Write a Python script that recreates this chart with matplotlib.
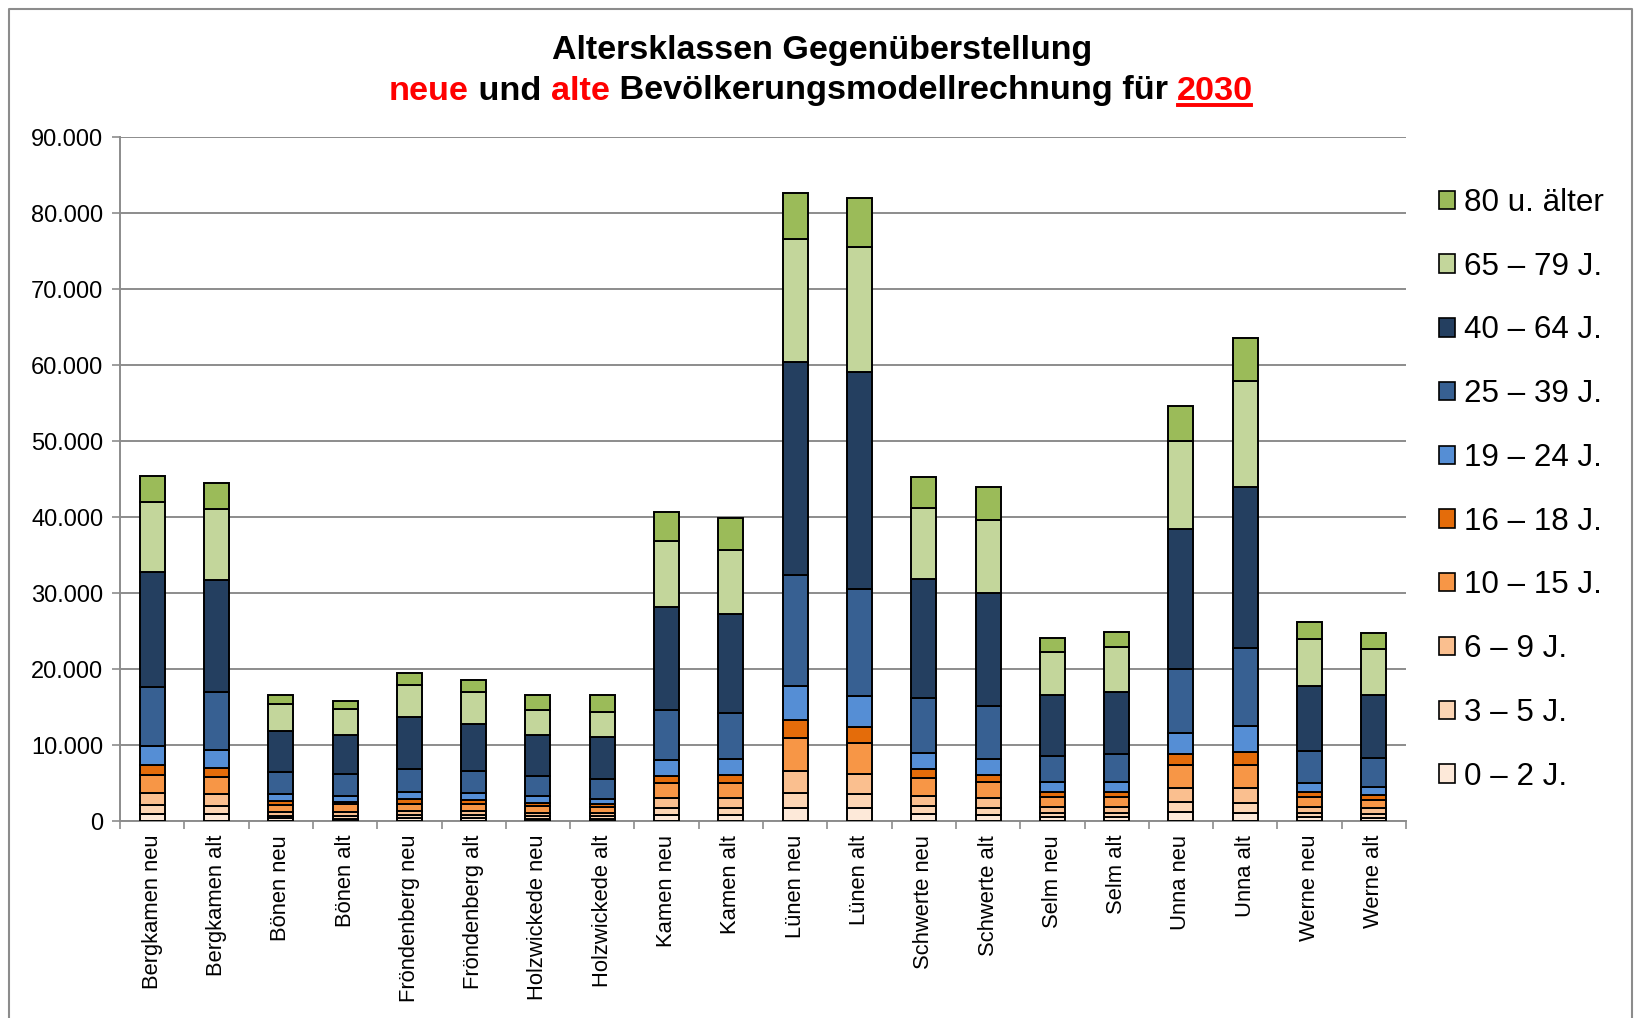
import matplotlib.pyplot as plt
import numpy as np
from matplotlib.lines import Line2D
from matplotlib.patches import Patch

plt.rcParams['font.family'] = ['Liberation Sans', 'DejaVu Sans']

# Kategorien (Gemeinde, neue / alte Rechnung)
labels = ['Bergkamen neu', 'Bergkamen alt', 'Bönen neu', 'Bönen alt',
          'Fröndenberg neu', 'Fröndenberg alt', 'Holzwickede neu', 'Holzwickede alt',
          'Kamen neu', 'Kamen alt', 'Lünen neu', 'Lünen alt',
          'Schwerte neu', 'Schwerte alt', 'Selm neu', 'Selm alt',
          'Unna neu', 'Unna alt', 'Werne neu', 'Werne alt']

# Altersklassen, von unten nach oben gestapelt
a_0_2 = [970, 880, 350, 310, 400, 400, 260, 260, 790, 790,
         1760, 1670, 880, 830, 480, 480, 1190, 1100, 530, 400]
a_3_5 = [1090, 1100, 350, 390, 390, 390, 350, 350, 970, 970,
         1970, 1930, 1050, 930, 570, 570, 1310, 1270, 520, 520]
a_6_9 = [1580, 1530, 450, 440, 570, 570, 440, 440, 1270, 1270,
         2860, 2550, 1360, 1270, 840, 790, 1850, 1930, 840, 790]
a_10_15 = [2460, 2290, 1000, 1060, 920, 880, 880, 790, 2020, 2020,
           4390, 4120, 2370, 2110, 1310, 1320, 2980, 3030, 1230, 1100]
a_16_18 = [1230, 1180, 530, 300, 570, 530, 480, 360, 920, 1050,
           2280, 2070, 1140, 920, 660, 660, 1540, 1760, 660, 610]
a_19_24 = [2500, 2330, 920, 840, 970, 920, 840, 700, 2110, 2070,
           4520, 4120, 2160, 2110, 1230, 1270, 2760, 3380, 1270, 1060]
a_25_39 = [7770, 7640, 2850, 2810, 3030, 2900, 2630, 2680, 6490, 6100,
           14550, 14110, 7240, 6930, 3510, 3690, 8360, 10300, 4210, 3860]
a_40_64 = [15130, 14770, 5450, 5220, 6810, 6230, 5490, 5480, 13630, 12970,
           28070, 28560, 15610, 14860, 7950, 8170, 18450, 21240, 8520, 8300]
a_65_79 = [9270, 9310, 3470, 3420, 4300, 4170, 3290, 3300, 8690, 8390,
           16160, 16420, 9310, 9660, 5720, 5900, 11510, 13880, 6210, 6040]
a_80 = [3380, 3470, 1270, 1010, 1530, 1620, 1980, 2280, 3740, 4260,
        6020, 6420, 4130, 4310, 1760, 2060, 4650, 5620, 2160, 2060]

series = [a_0_2, a_3_5, a_6_9, a_10_15, a_16_18, a_19_24, a_25_39, a_40_64, a_65_79, a_80]
names = ['0 – 2 J.', '3 – 5 J.', '6 – 9 J.', '10 – 15 J.', '16 – 18 J.',
         '19 – 24 J.', '25 – 39 J.', '40 – 64 J.', '65 – 79 J.', '80 u. älter']
colors = ['#FDE9D9', '#FCD5B4', '#FABF8F', '#F79646', '#E46C0A',
          '#558ED5', '#376092', '#243F60', '#C3D69B', '#9BBB59']

W, H = 1634, 1018
fig = plt.figure(figsize=(W / 100, H / 100), dpi=100)
ax = fig.add_axes([120 / W, 1 - 821 / H, (1406 - 120) / W, (821 - 137) / H])

x = np.arange(len(labels))
bottom = np.zeros(len(labels))
for vals, name, col in zip(series, names, colors):
    ax.bar(x, vals, 0.39, bottom=bottom, color=col, edgecolor='black',
           linewidth=1.4, label=name, zorder=3)
    bottom += np.array(vals)

ax.set_xlim(-0.5, len(labels) - 0.5)
ax.set_ylim(0, 90000)
yt = np.arange(0, 90001, 10000)
ax.set_yticks(yt)
ax.set_yticklabels([f'{v:,.0f}'.replace(',', '.') for v in yt], fontsize=17)
ax.yaxis.grid(True, color='#8c8c8c', linewidth=1.4, zorder=0)
ax.set_axisbelow(True)

ax.set_xticks(x)
ax.set_xticklabels(labels, rotation=90, fontsize=15.8, va='top', ha='center')
ax.tick_params(axis='x', length=0, pad=10)
ax.set_xticks(np.arange(-0.5, len(labels)), minor=True)
ax.tick_params(axis='x', which='minor', length=6, color='#8c8c8c', width=1.2, direction='out')
ax.tick_params(axis='y', length=6, color='#8c8c8c', width=1.2, pad=6)

for s in ['top', 'right']:
    ax.spines[s].set_visible(False)
for s in ['left', 'bottom']:
    ax.spines[s].set_color('#8c8c8c')
    ax.spines[s].set_linewidth(1.4)

# Legende (oberste Klasse zuerst)
handles = [Patch(facecolor=c, edgecolor='black', linewidth=1.2) for c in colors[::-1]]
fig.legend(handles, names[::-1], loc='upper left', bbox_to_anchor=(1439 / W, 1 - 188 / H),
           frameon=False, fontsize=22.6, handlelength=0.52, handleheight=0.52,
           handletextpad=0.28, labelspacing=1.075, borderpad=0, borderaxespad=0)

# Titel
fig.text(0.5 * (550 + 1094) / W, 1 - 51 / H, 'Altersklassen Gegenüberstellung',
         ha='center', va='center', fontsize=24.5, fontweight='bold')

parts = [('neue', 'red'), (' und ', 'black'), ('alte', 'red'),
         (' Bevölkerungsmodellrechnung für ', 'black'), ('2030', 'red')]
fig.canvas.draw()
r = fig.canvas.get_renderer()
texts = []
for s, c in parts:
    t = fig.text(0, 1 - 91 / H, s, ha='left', va='center', fontsize=24.7,
                 fontweight='bold', color=c)
    texts.append(t)
widths = [t.get_window_extent(renderer=r).width for t in texts]
x0 = (W - sum(widths)) / 2 + 4
for t, w in zip(texts, widths):
    t.set_x(x0 / W)
    x0 += w
bb = texts[-1].get_window_extent(renderer=r)
uy = 1 - 105 / H
ux0 = texts[-1].get_position()[0] + 1 / W
fig.add_artist(Line2D([ux0, ux0 + (bb.width - 3) / W], [uy, uy], color='red', linewidth=2.8))

# Rahmen
fig.add_artist(Line2D([9 / W, 9 / W, 1632 / W, 1632 / W], [0, 1 - 9 / H, 1 - 9 / H, 0],
                      color='#8c8c8c', linewidth=1.5))

fig.savefig('out.png', dpi=100)
